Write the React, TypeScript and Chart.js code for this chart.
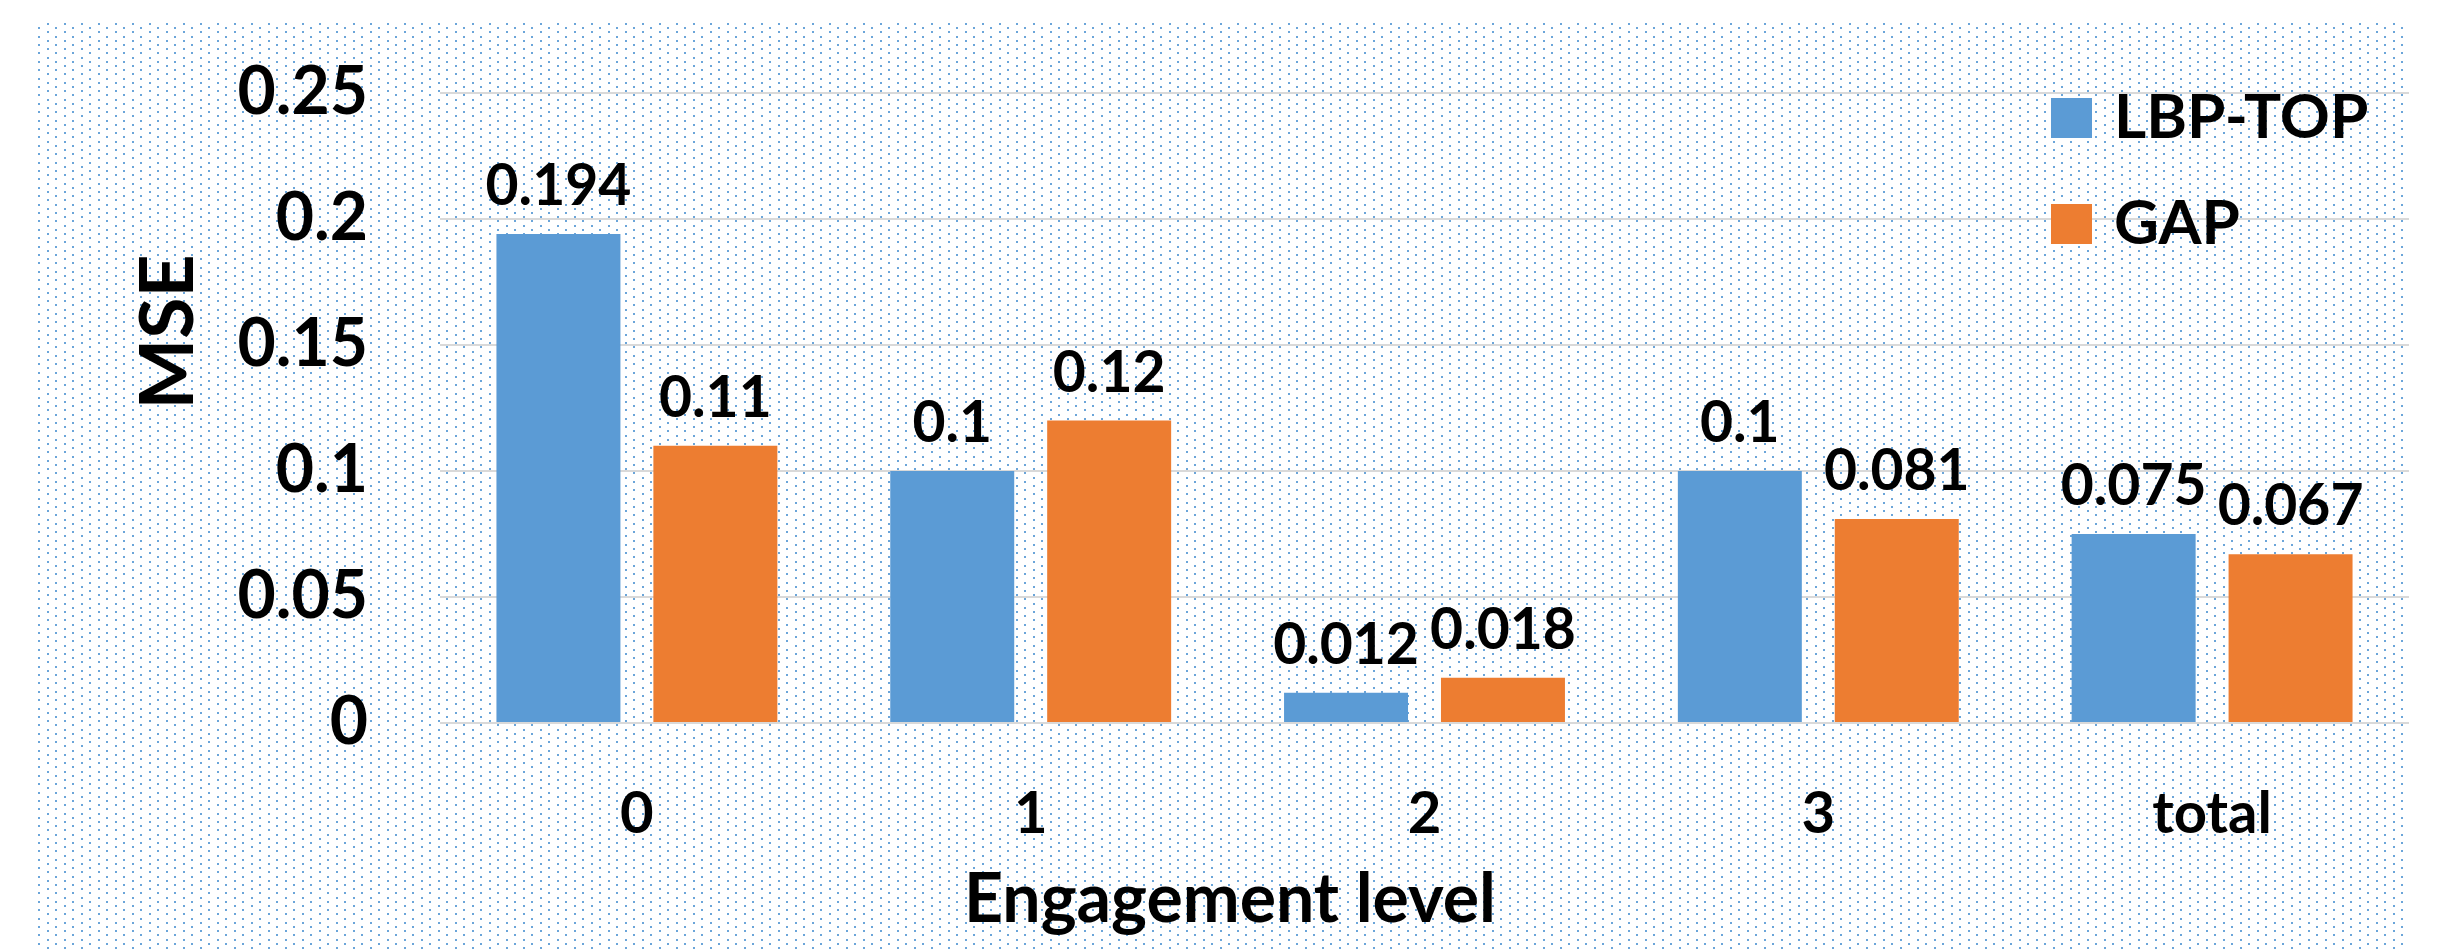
import React, { useEffect, useRef } from "react";
import { Chart, registerables } from "chart.js";

Chart.register(...registerables);

const categories = ["0", "1", "2", "3", "total"];
const lbpTopValues = [0.194, 0.1, 0.012, 0.1, 0.075];
const gapValues = [0.11, 0.12, 0.018, 0.081, 0.067];
const seriesNames = ["LBP-TOP", "GAP"];
const seriesColors = ["#5B9BD5", "#ED7D31"];
const yTicks = [0, 0.05, 0.1, 0.15, 0.2, 0.25];
const yTitle = "MSE";
const xTitle = "Engagement level";

const FONT = "Lato, 'Open Sans', 'DejaVu Sans', sans-serif";

const backgroundPlugin = {
  id: "dottedBackground",
  beforeDraw(chart: any) {
    const ctx = chart.ctx;
    ctx.save();
    ctx.fillStyle = "#ffffff";
    ctx.fillRect(0, 0, chart.width, chart.height);
    const left = 37;
    const right = 2409;
    const top = 19;
    const bottom = chart.height;
    ctx.fillStyle = "rgba(91,155,213,0.9)";
    let r = 0;
    for (let y = 18.8; y < bottom; y += 4.2, r++) {
      if (y < top) continue;
      const x0 = r % 2 === 0 ? 38 : 46.5;
      for (let x = x0; x < right - 1; x += 17) {
        if (x < left) continue;
        ctx.fillRect(Math.round(x), Math.round(y), 2, 2);
      }
    }
    ctx.restore();
  },
};

const labelsPlugin = {
  id: "valueLabels",
  afterDatasetsDraw(chart: any) {
    const ctx = chart.ctx;
    ctx.save();
    ctx.fillStyle = "#000";
    ctx.font = `bold 57px ${FONT}`;
    ctx.textAlign = "center";
    ctx.textBaseline = "alphabetic";
    chart.data.datasets.forEach((ds: any, i: number) => {
      const meta = chart.getDatasetMeta(i);
      meta.data.forEach((bar: any, j: number) => {
        ctx.fillText(String(ds.data[j]), bar.x, bar.y - 29);
      });
    });
    ctx.restore();
  },
};

const legendAndTitlesPlugin = {
  id: "legendAndTitles",
  afterDraw(chart: any) {
    const ctx = chart.ctx;
    ctx.save();
    // legend
    chart.data.datasets.forEach((ds: any, i: number) => {
      const top = 98 + i * 106;
      ctx.fillStyle = ds.backgroundColor;
      ctx.fillRect(2051, top, 41, 40);
      ctx.fillStyle = "#000";
      ctx.font = `bold 62px ${FONT}`;
      ctx.textAlign = "left";
      ctx.textBaseline = "alphabetic";
      ctx.fillText(ds.label, 2114, top + 40);
    });
    // y title
    ctx.save();
    ctx.translate(166, 332);
    ctx.rotate(-Math.PI / 2);
    ctx.fillStyle = "#000";
    ctx.font = `bold 75px ${FONT}`;
    ctx.textAlign = "center";
    ctx.textBaseline = "alphabetic";
    ctx.fillText(yTitle, 0, 27);
    ctx.restore();
    // x title
    ctx.fillStyle = "#000";
    ctx.font = `bold 68px ${FONT}`;
    ctx.textAlign = "center";
    ctx.textBaseline = "alphabetic";
    ctx.fillText(xTitle, 1230, 922);
    ctx.restore();
  },
};

export default function App() {
  const canvasRef = useRef<HTMLCanvasElement | null>(null);

  useEffect(() => {
    const canvas = canvasRef.current;
    if (!canvas) return;
    const chart = new Chart(canvas, {
      type: "bar",
      data: {
        labels: categories,
        datasets: [
          {
            label: seriesNames[0],
            data: lbpTopValues,
            backgroundColor: seriesColors[0],
            barPercentage: 0.79,
            categoryPercentage: 0.797,
          },
          {
            label: seriesNames[1],
            data: gapValues,
            backgroundColor: seriesColors[1],
            barPercentage: 0.79,
            categoryPercentage: 0.797,
          },
        ],
      },
      options: {
        animation: false,
        responsive: false,
        maintainAspectRatio: false,
        devicePixelRatio: 1,
        layout: { padding: { top: 93, right: 47, bottom: 0, left: 0 } },
        plugins: {
          legend: { display: false },
          tooltip: { enabled: false },
        },
        scales: {
          x: {
            grid: { display: false },
            border: { display: false },
            ticks: {
              color: "#000",
              padding: 48,
              font: { family: FONT, size: 58, weight: "bold" },
            },
            afterFit: (s: any) => {
              s.height = 226;
              s.paddingLeft = 0;
              s.paddingRight = 0;
            },
          },
          y: {
            min: 0,
            max: 0.25,
            border: { display: false },
            grid: { color: "#D9D9D9", lineWidth: 2, drawTicks: false },
            ticks: {
              color: "#000",
              padding: 72,
              font: { family: FONT, size: 66, weight: "bold" },
              callback: (v: any) => String(Number(Number(v).toFixed(2))),
            },
            afterBuildTicks: (s: any) => {
              s.ticks = yTicks.map((v) => ({ value: v }));
            },
            afterFit: (s: any) => {
              s.width = 440;
              s.paddingTop = 0;
              s.paddingBottom = 0;
            },
          },
        },
      },
      plugins: [backgroundPlugin, labelsPlugin, legendAndTitlesPlugin],
    });
    return () => chart.destroy();
  }, []);

  return (
    <div style={{ position: "fixed", left: 0, top: 0, width: 2456, height: 949 }}>
      <canvas ref={canvasRef} width={2456} height={949} style={{ display: "block" }} />
    </div>
  );
}
